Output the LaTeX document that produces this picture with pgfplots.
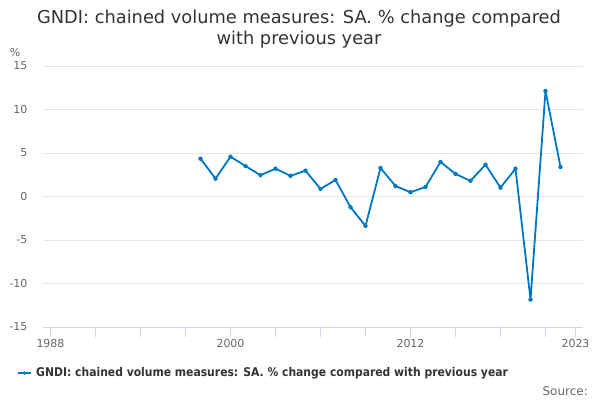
\documentclass[border=0pt]{standalone}
\usepackage{pgfplots}
\pgfplotsset{compat=1.18}
\usepackage{fontspec}
\setmainfont{DejaVu Sans}
\newfontfamily\legfont[FakeStretch=0.9]{DejaVu Sans}
\definecolor{series}{RGB}{0,119,195}
\definecolor{gridc}{RGB}{230,230,230}
\definecolor{axisc}{RGB}{204,214,235}
\definecolor{tickc}{RGB}{102,102,102}
\definecolor{titlec}{RGB}{51,51,51}
\begin{document}
\begin{tikzpicture}[x=1pt,y=1pt]
\useasboundingbox (0,0) rectangle (600,400);
\node[font=\fontsize{17.8}{21}\selectfont, text=titlec, align=center] at (299,371) {GNDI: chained volume measures: SA. \% change compared\\with previous year};
\node[font=\fontsize{11}{13}\selectfont, text=tickc] at (15,348) {\%};
\begin{axis}[
  at={(43pt,73pt)}, anchor=south west,
  scale only axis, width=540pt, height=261pt,
  xmin=1987.5, xmax=2023.5,
  ymin=-15, ymax=15,
  ytick={-15,-10,...,15},
  xtick={1988,1991,...,2021,2023},
  xticklabels={1988,,,,2000,,,,2012,,,,2023},
  /pgf/number format/assume math mode=true,
  /pgf/number format/1000 sep={},
  ymajorgrids, grid style={gridc, line width=0.8pt},
  axis y line*=left,
  y axis line style={draw=none},
  ytick style={draw=none},
  axis x line*=bottom,
  x axis line style={axisc, line width=0.8pt, -},
  xtick style={axisc, line width=0.8pt},
  xtick align=outside,
  major tick length=10pt,
  tick label style={font=\fontsize{11}{13}\selectfont, text=tickc},
  xticklabel style={yshift=1pt},
  yticklabel style={xshift=-12pt},
  clip=false,
]
\addplot[series, line width=1.8pt, mark=*, mark size=1.5pt, line join=round] coordinates {
(1998,4.35) (1999,2.05) (2000,4.58) (2001,3.5) (2002,2.45) (2003,3.2) (2004,2.37)
(2005,2.97) (2006,0.87) (2007,1.9) (2008,-1.22) (2009,-3.38) (2010,3.28) (2011,1.2)
(2012,0.49) (2013,1.1) (2014,3.97) (2015,2.6) (2016,1.8) (2017,3.66) (2018,1.02)
(2019,3.2) (2020,-11.85) (2021,12.13) (2022,3.38)
};
\end{axis}
\draw[series, line width=1.8pt] (18,27) -- (31,27);
\fill[series] (24.5,27) circle (1.8pt);
\node[font=\legfont\bfseries\fontsize{12}{14}\selectfont, text=titlec, anchor=west, inner sep=0pt] at (36,27) {GNDI: chained volume measures: SA. \% change compared with previous year};
\node[font=\fontsize{12}{14}\selectfont, text=tickc, anchor=east, inner sep=0pt] at (588,9) {Source:};
\end{tikzpicture}
\end{document}
